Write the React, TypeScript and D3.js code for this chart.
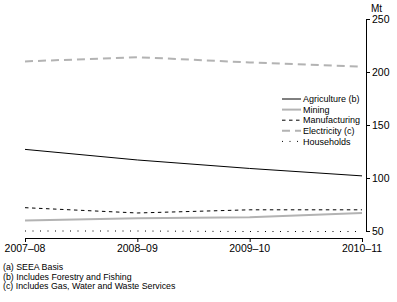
import React from 'react';
import * as d3 from 'd3';

const years = ['2007–08', '2008–09', '2009–10', '2010–11'];
const agriculture = [127, 117, 109, 102];
const mining = [60, 62, 63, 67];
const manufacturing = [72, 67, 70, 70];
const electricity = [210, 214, 209, 205];
const households = [50, 50, 49.5, 49.5];
const yTicks = [50, 100, 150, 200, 250];
const footnotes = ['(a) SEEA Basis', '(b) Includes Forestry and Fishing', '(c) Includes Gas, Water and Waste Services'];

const series = [
  { name: 'Agriculture (b)', values: agriculture, color: '#000', width: 1, dash: '' },
  { name: 'Mining', values: mining, color: '#b3b3b3', width: 2, dash: '' },
  { name: 'Manufacturing', values: manufacturing, color: '#000', width: 1, dash: '3.5,3.5' },
  { name: 'Electricity (c)', values: electricity, color: '#b3b3b3', width: 2, dash: '8,5' },
  { name: 'Households', values: households, color: '#000', width: 1, dash: '1,6.5' },
];

const font = '"Liberation Sans Narrow", "Arial Narrow", "Liberation Sans", sans-serif';

export default function App() {
  // chart frame
  const x = d3.scalePoint<string>().domain(years).range([25, 362]);
  const y = d3.scaleLinear().domain([50, 250]).range([231, 19]);
  const axisX = 366;
  const baseY = 238;

  const line = d3.line<number>()
    .x((_, i) => x(years[i]) as number)
    .y(d => y(d));

  return (
    <svg width={397} height={302} style={{ position: 'absolute', left: 0, top: 0 }} fontFamily={font}>
      {/* y axis */}
      <line x1={axisX + 0.5} x2={axisX + 0.5} y1={y(250)} y2={y(50) + 0.5} stroke="#000" />
      {yTicks.map(t => (
        <g key={t}>
          <line x1={axisX} x2={axisX + 4} y1={Math.round(y(t)) + 0.5} y2={Math.round(y(t)) + 0.5} stroke="#000" />
          <text x={372} y={y(t)} dy="0.35em" fontSize={10.5}>{t}</text>
        </g>
      ))}
      <text x={371} y={8} dy="0.35em" fontSize={10}>Mt</text>

      {/* x axis */}
      <line x1={x(years[0])} x2={x(years[3]) as number + 0.5} y1={baseY + 0.5} y2={baseY + 0.5} stroke="#000" />
      {years.map(yr => (
        <g key={yr}>
          <line x1={(x(yr) as number) + 0.5} x2={(x(yr) as number) + 0.5} y1={baseY} y2={baseY + 4} stroke="#000" />
          <text x={x(yr)} y={248} dy="0.35em" fontSize={10.5} textAnchor="middle">{yr}</text>
        </g>
      ))}

      {/* series */}
      {series.map(s => (
        <path key={s.name} d={line(s.values) || ''} fill="none" stroke={s.color}
          strokeWidth={s.width} strokeDasharray={s.dash || undefined} />
      ))}

      {/* legend */}
      {series.map((s, i) => {
        const ly = 99 + i * 10.6;
        return (
          <g key={s.name}>
            <line x1={282} x2={301} y1={ly} y2={ly} stroke={s.color} strokeWidth={s.width}
              strokeDasharray={s.dash || undefined} />
            <text x={303} y={ly} dy="0.35em" fontSize={9}>{s.name}</text>
          </g>
        );
      })}

      {/* footnotes */}
      {footnotes.map((f, i) => (
        <text key={f} x={3} y={267 + i * 9.5} dy="0.35em" fontSize={8.8}>{f}</text>
      ))}
    </svg>
  );
}
